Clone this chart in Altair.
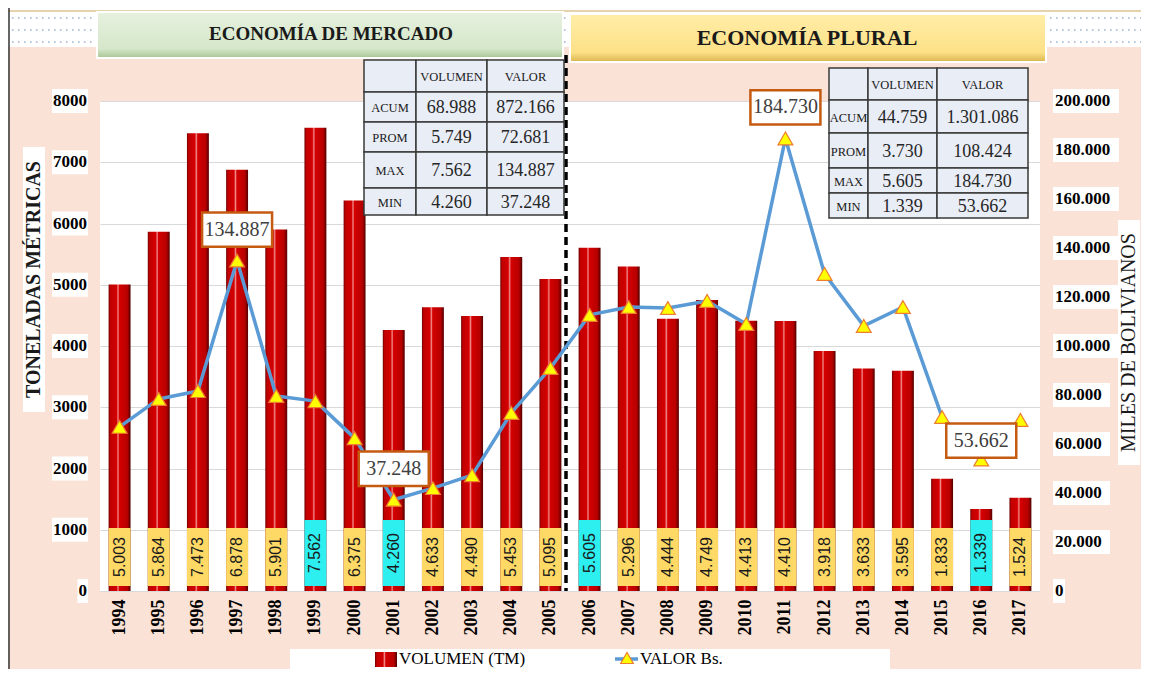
import altair as alt
import pandas as pd

# ---------------- data ----------------
years = [str(y) for y in range(1994, 2018)]
volumen = [5003, 5864, 7473, 6878, 5901, 7562, 6375, 4260, 4633, 4490, 5453, 5095,
           5605, 5296, 4444, 4749, 4413, 4410, 3918, 3633, 3595, 1833, 1339, 1524]
valor = [67000, 78400, 81600, 134887, 79600, 77500, 62400, 37248, 42000, 47300, 72700, 91000,
         112700, 115900, 115500, 118400, 109000, 184730, 129400, 108200, 115900, 71000, 53662, 69800]
periodo_titulos = ["ECONOMÍA DE MERCADO", "ECONOMÍA PLURAL"]
periodos = [periodo_titulos[0]] * 12 + [periodo_titulos[1]] * 12

filas_tabla = ["ACUM", "PROM", "MAX", "MIN"]
cols_tabla = ["VOLUMEN", "VALOR"]
t1_vol = ["68.988", "5.749", "7.562", "4.260"]
t1_val = ["872.166", "72.681", "134.887", "37.248"]
t2_vol = ["44.759", "3.730", "5.605", "1.339"]
t2_val = ["1.301.086", "108.424", "184.730", "53.662"]

ticks_izq = list(range(0, 8001, 1000))
ticks_der = list(range(0, 200001, 20000))
titulo_izq = "TONELADAS MÉTRICAS"
titulo_der = "MILES DE BOLIVIANOS"
serie_nombres = ["VOLUMEN (TM)", "VALOR  Bs."]

# ---------------- layout / style ----------------
W, H = 940, 490
PEACH = "#FAE3D6"
SERIF = "Liberation Serif"
RIGHT_PAD = 101


def miles(v):
    return f"{int(v):,}".replace(",", ".")


df = pd.DataFrame({"year": years, "volumen": volumen, "valor": valor, "periodo": periodos})
df["vol_lbl"] = [miles(v) for v in volumen]
df["val_lbl"] = [miles(v) for v in valor]
g = df.groupby("periodo")
df["extremo"] = (df["volumen"] == g["volumen"].transform("max")) | (df["volumen"] == g["volumen"].transform("min"))
df["anota"] = (df["valor"] == g["valor"].transform("max")) | (df["valor"] == g["valor"].transform("min"))
df["caja"] = df["extremo"].map({True: "ext", False: "norm"})
df["lo"] = 80
df["hi"] = df["extremo"].map({True: 1160, False: 1030})
df["mid"] = (df["lo"] + df["hi"]) / 2

xs = alt.Scale(domain=years, paddingInner=0.44, paddingOuter=0.22)
yl = alt.Scale(domain=[0, 8000], nice=False, zero=False)
yr = alt.Scale(domain=[0, 200000], nice=False, zero=False)
X = alt.X("year:N", scale=xs, axis=None, title=None)

bar_grad = alt.Gradient(
    gradient="linear", x1=0, x2=1, y1=0, y2=0,
    stops=[
        alt.GradientStop(color="#6E0000", offset=0),
        alt.GradientStop(color="#C00000", offset=0.08),
        alt.GradientStop(color="#D40000", offset=0.36),
        alt.GradientStop(color="#F08A8A", offset=0.43),
        alt.GradientStop(color="#D40000", offset=0.49),
        alt.GradientStop(color="#B80000", offset=0.85),
        alt.GradientStop(color="#520000", offset=1),
    ],
)

one = pd.DataFrame({"k": [0]})


def rect(x, x2, y, y2, **kw):
    return alt.Chart(one).mark_rect(**kw).encode(
        x=alt.value(x), x2=alt.value(x2), y=alt.value(y), y2=alt.value(y2))


def label(x, y, t, **kw):
    return alt.Chart(one).mark_text(**kw).encode(x=alt.value(x), y=alt.value(y), text=alt.value(t))


def hrule(x, x2, y, **kw):
    return alt.Chart(one).mark_rule(**kw).encode(x=alt.value(x), x2=alt.value(x2), y=alt.value(y))


# ---- top dotted strip and frame ----
layers = [
    rect(-92, W + RIGHT_PAD, -93, -54, fill="white"),
    hrule(-92, W + RIGHT_PAD, -90, color="#E6D3AE", strokeWidth=2),
]
for yy in (-83, -71, -59):
    layers.append(hrule(-88, W + RIGHT_PAD, yy, color="#9FB4D0", strokeWidth=1.6, strokeDash=[1.6, 4.4]))
layers.append(alt.Chart(one).mark_rule(color="#333333", strokeWidth=1.5).encode(
    x=alt.value(-91), y=alt.value(-93), y2=alt.value(H + 80)))

# ---- header boxes ----
green_grad = alt.Gradient(gradient="linear", x1=0, x2=0, y1=0, y2=1, stops=[
    alt.GradientStop(color="#E6F1DE", offset=0),
    alt.GradientStop(color="#D5E7CA", offset=0.8),
    alt.GradientStop(color="#A7C595", offset=1)])
yellow_grad = alt.Gradient(gradient="linear", x1=0, x2=0, y1=0, y2=1, stops=[
    alt.GradientStop(color="#FFEDA8", offset=0),
    alt.GradientStop(color="#FDE187", offset=0.8),
    alt.GradientStop(color="#D8B44C", offset=1)])
layers += [
    rect(-3, 463, -89, -43, color=green_grad, stroke="white", strokeWidth=2),
    rect(470, 946, -87, -39, color=yellow_grad, stroke="white", strokeWidth=2),
    label(231, -67, periodo_titulos[0], font=SERIF, fontSize=19, fontWeight="bold", color="#1A1A1A",
          align="center", baseline="middle"),
    label(707, -63, periodo_titulos[1], font=SERIF, fontSize=22, fontWeight="bold", color="#1A1A1A",
          align="center", baseline="middle"),
]

# ---- bars with grid + x axis ----
xaxis = alt.Axis(labelAngle=270, labelFont=SERIF, labelFontWeight="bold", labelFontSize=18,
                 labelColor="black", labelPadding=8, ticks=False, domain=False,
                 labelAlign="right", labelBaseline="middle", title=None)
gridaxis = alt.Axis(values=ticks_izq, grid=True, gridColor="#D9D9D9", gridWidth=1.2, labels=False,
                    ticks=False, domain=False, title=None)
bars = alt.Chart(df).mark_bar(color=bar_grad).encode(
    x=alt.X("year:N", scale=xs, axis=xaxis, title=None),
    y=alt.Y("volumen:Q", scale=yl, axis=gridaxis),
)
layers.append(bars)

# ---- value label boxes inside the bars ----
layers.append(alt.Chart(df).mark_bar().encode(
    x=X,
    y=alt.Y("lo:Q", scale=yl, axis=None), y2="hi:Q",
    color=alt.Color("caja:N", scale=alt.Scale(domain=["norm", "ext"], range=["#FFD966", "#2DEFF0"]),
                    legend=None),
))
layers.append(alt.Chart(df).mark_text(angle=270, font="Liberation Sans", fontSize=16, color="#1A1A1A",
                                      align="center", baseline="middle").encode(
    x=X, y=alt.Y("mid:Q", scale=yl, axis=None), text="vol_lbl:N"))

# ---- dashed separator ----
layers.append(alt.Chart(one).mark_rule(color="black", strokeWidth=3.5, strokeDash=[8, 5]).encode(
    x=alt.value(466), y=alt.value(-46), y2=alt.value(H)))

# ---- valor line + markers ----
layers.append(alt.Chart(df).mark_line(color="#5B9BD5", strokeWidth=3.5, strokeJoin="round").encode(
    x=X, y=alt.Y("valor:Q", scale=yr, axis=None)))
layers.append(alt.Chart(df).mark_point(shape="triangle-up", filled=True, fill="#FFFF00", stroke="#ED7D31",
                                       strokeWidth=1.2, size=220, opacity=1).encode(
    x=X, y=alt.Y("valor:Q", scale=yr, axis=None)))


# ---- stats tables ----
def table_cells(xe, ye, vol, val):
    rows = []
    for r in range(5):
        for c in range(3):
            if r == 0:
                t = ["", cols_tabla[0], cols_tabla[1]][c]
            else:
                t = [filas_tabla[r - 1], vol[r - 1], val[r - 1]][c]
            rows.append(dict(x=xe[c], x2=xe[c + 1], y=ye[r], y2=ye[r + 1],
                             cx=(xe[c] + xe[c + 1]) / 2, cy=(ye[r] + ye[r + 1]) / 2 + 1,
                             t=t, kind="small" if (r == 0 or c == 0) else "num"))
    return pd.DataFrame(rows)


cells = pd.concat([
    table_cells([264, 316, 387, 464], [-41, -9, 21, 51, 87, 114], t1_vol, t1_val),
    table_cells([729, 768, 837, 928], [-33, -1, 32, 67, 92, 117], t2_vol, t2_val),
], ignore_index=True)
PX = lambda f: alt.X(f, scale=None, axis=None)
PY = lambda f: alt.Y(f, scale=None, axis=None)
layers.append(alt.Chart(cells).mark_rect(fill="#E9EDF6", stroke="#3A3A3A", strokeWidth=1.5).encode(
    x=PX("x:Q"), x2="x2:Q", y=PY("y:Q"), y2="y2:Q"))
layers.append(alt.Chart(cells).transform_filter("datum.kind == 'small'").mark_text(
    font=SERIF, fontSize=12.5, color="#1A1A1A", align="center", baseline="middle").encode(
    x=PX("cx:Q"), y=PY("cy:Q"), text="t:N"))
layers.append(alt.Chart(cells).transform_filter("datum.kind == 'num'").mark_text(
    font=SERIF, fontSize=18, color="#262626", align="center", baseline="middle").encode(
    x=PX("cx:Q"), y=PY("cy:Q"), text="t:N"))

# ---- annotations of max / min valor ----
BOX = "M-1,-0.49L1,-0.49L1,0.49L-1,0.49Z"
ann = df[df["anota"]]
for yrs, off in ((["2016"], -19), ([y for y in ann["year"] if y != "2016"], -31)):
    sub = ann[ann["year"].isin(yrs)]
    layers.append(alt.Chart(sub).mark_point(shape=BOX, size=4900, filled=True, fill="white", opacity=1,
                                            stroke="#C55A11", strokeWidth=2.5, yOffset=off).encode(
        x=X, y=alt.Y("valor:Q", scale=yr, axis=None)))
    layers.append(alt.Chart(sub).mark_text(font=SERIF, fontSize=20, color="#404040", yOffset=off,
                                           align="center", baseline="middle").encode(
        x=X, y=alt.Y("valor:Q", scale=yr, axis=None), text="val_lbl:N"))

# ---- manual axis labels with white backgrounds ----
izq = pd.DataFrame({"v": ticks_izq})
izq["t"] = [str(v) for v in ticks_izq]
izq["bx"] = [-12 - (8.5 * len(t) + 2) for t in izq["t"]]
izq["bx2"] = -12
izq["lo"] = izq["v"] - 196
izq["hi"] = izq["v"] + 196
layers.append(alt.Chart(izq).mark_rect(fill="white").encode(
    x=PX("bx:Q"), x2="bx2:Q", y=alt.Y("lo:Q", scale=yl, axis=None), y2="hi:Q"))
layers.append(alt.Chart(izq).mark_text(font=SERIF, fontSize=17, fontWeight="bold", color="black",
                                       align="right", baseline="middle").encode(
    x=alt.value(-13), y=alt.Y("v:Q", scale=yl, axis=None), text="t:N"))

der = pd.DataFrame({"v": ticks_der})
der["t"] = [miles(v) for v in ticks_der]
der["bx"] = 953
der["bx2"] = [953 + 9 * len(t) + 3 for t in der["t"]]
der["lo"] = der["v"] - 4900
der["hi"] = der["v"] + 4900
layers.append(alt.Chart(der).mark_rect(fill="white").encode(
    x=PX("bx:Q"), x2="bx2:Q", y=alt.Y("lo:Q", scale=yr, axis=None), y2="hi:Q"))
layers.append(alt.Chart(der).mark_text(font=SERIF, fontSize=17, fontWeight="bold", color="black",
                                       align="left", baseline="middle").encode(
    x=alt.value(955), y=alt.Y("v:Q", scale=yr, axis=None), text="t:N"))

# ---- axis titles ----
layers += [
    rect(-77, -55, 46, 311, fill="white"),
    label(-66, 178.5, titulo_izq, font=SERIF, fontSize=20, fontWeight="bold", color="#1A1A1A",
          angle=270, align="center", baseline="middle"),
    rect(1018, 1040, 119, 364, fill="white"),
    label(1029, 241.5, titulo_der, font=SERIF, fontSize=20, color="#1A1A1A",
          angle=270, align="center", baseline="middle"),
]

# ---- legend ----
layers += [
    rect(190, 790, 548, 570, fill="white"),
    rect(275, 297, 551, 566, color=bar_grad),
    label(299, 558, serie_nombres[0], font=SERIF, fontSize=17, color="black", align="left", baseline="middle"),
    hrule(515, 538, 558, color="#5B9BD5", strokeWidth=3.5),
    alt.Chart(one).mark_point(shape="triangle-up", filled=True, fill="#FFFF00", stroke="#ED7D31",
                              strokeWidth=1.2, size=160, opacity=1).encode(x=alt.value(527), y=alt.value(557)),
    label(540, 558, serie_nombres[1], font=SERIF, fontSize=17, color="black", align="left", baseline="middle"),
]

chart = alt.layer(*layers).resolve_scale(x="independent", y="independent").properties(
    width=W, height=H,
    padding={"left": 92, "top": 93, "right": RIGHT_PAD, "bottom": 78},
    autosize=alt.AutoSizeParams(type="none"),
    background=PEACH,
).configure_view(fill="white", strokeWidth=0)

chart.save("out.html", embed_options={"renderer": "svg", "actions": False})
